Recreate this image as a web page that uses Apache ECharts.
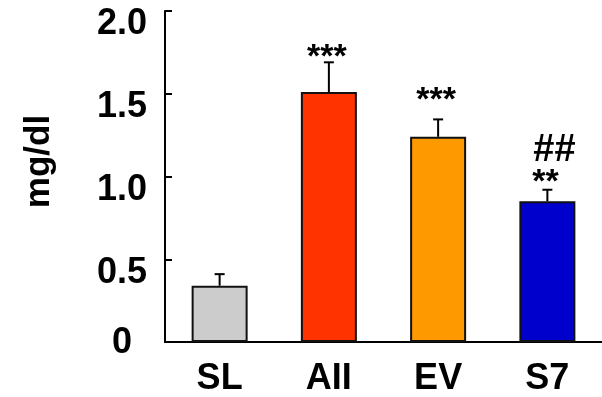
<!DOCTYPE html>
<html>
<head>
<meta charset="utf-8">
<script src="https://cdn.jsdelivr.net/npm/echarts@6/dist/echarts.min.js"></script>
<style>
  html, body { margin: 0; padding: 0; background: #fff; }
  #chart { width: 602px; height: 397px; }
</style>
</head>
<body>
<div id="chart"></div>
<script>
const groups = ['SL', 'AII', 'EV', 'S7']
const means = [0.34, 1.51, 1.24, 0.85]
const sems = [0.07, 0.18, 0.105, 0.07]
const stars = ['', '***', '***', '**']
const hashes = ['', '', '', '##']
const yTicks = [0, 0.5, 1.0, 1.5, 2.0]

const barColors = ['#CCCCCC', '#FF3300', '#FF9900', '#0000CC']
// pixel lift of each annotation above its error cap
const starLift = [0, 5, 19, 7]
const hashLift = [0, 0, 0, 39]

const FONT = '"Liberation Sans", Arial, sans-serif'

const chart = echarts.init(document.getElementById('chart'), null, { renderer: 'canvas' })

const option = {
  backgroundColor: '#fff',
  animation: false,
  grid: { left: 165, right: -3, top: 11, bottom: 53 },
  xAxis: {
    type: 'category',
    data: groups,
    axisLine: { lineStyle: { color: '#000', width: 2 } },
    axisTick: { inside: true, length: 13, lineStyle: { color: '#000', width: 2 } },
    axisLabel: {
      color: '#000', fontSize: 36, fontWeight: 'bold', fontFamily: FONT, margin: 19
    }
  },
  yAxis: {
    type: 'value',
    min: yTicks[0],
    max: yTicks[yTicks.length - 1],
    interval: 0.5,
    name: 'mg/dl',
    nameLocation: 'middle',
    nameGap: 108,
    nameRotate: 90,
    nameTextStyle: {
      color: '#000', fontSize: 35, fontWeight: 'bold', fontFamily: FONT,
      padding: [0, 0, 0, 30]
    },
    splitLine: { show: false },
    axisLine: { show: true, lineStyle: { color: '#000', width: 2 } },
    axisTick: { show: true, inside: true, length: 7, lineStyle: { color: '#000', width: 2 } },
    axisLabel: {
      align: 'center',
      margin: 43,
      formatter: v => v === 0 ? '{z|0}' : '{n|' + v.toFixed(1) + '}',
      rich: {
        z: { color: '#000', fontSize: 36, fontWeight: 'bold', fontFamily: FONT, padding: [3, 0, 0, 0] },
        n: { color: '#000', fontSize: 36, fontWeight: 'bold', fontFamily: FONT, padding: [27, 0, 0, 0] }
      }
    }
  },
  series: [
    {
      type: 'bar',
      barWidth: 56,
      data: means.map((v, i) => ({
        value: v,
        itemStyle: { color: barColors[i], borderColor: '#111', borderWidth: 2 }
      })),
      z: 2
    },
    {
      type: 'custom',
      z: 3,
      data: means.map((v, i) => [i, v, v + sems[i]]),
      renderItem: (params, api) => {
        const i = api.value(0)
        const base = api.coord([i, api.value(1)])
        const top = api.coord([i, api.value(2)])
        const x = base[0]
        const children = [
          { type: 'line', shape: { x1: x, y1: base[1], x2: x, y2: top[1] },
            style: { stroke: '#000', lineWidth: 2 } },
          { type: 'line', shape: { x1: x - 5, y1: top[1], x2: x + 5, y2: top[1] },
            style: { stroke: '#000', lineWidth: 2 } }
        ]
        if (stars[i]) {
          children.push({
            type: 'text',
            style: {
              text: stars[i], x: x - 2, y: top[1] - starLift[i],
              align: 'center', verticalAlign: 'middle',
              font: 'bold 34px ' + FONT, fill: '#000'
            }
          })
        }
        if (hashes[i]) {
          children.push({
            type: 'text',
            style: {
              text: hashes[i], x: x + 7, y: top[1] - hashLift[i],
              align: 'center', verticalAlign: 'middle',
              font: 'bold 38px ' + FONT, fill: '#000'
            }
          })
        }
        return { type: 'group', children }
      }
    }
  ]
}

chart.setOption(option)
</script>
</body>
</html>
